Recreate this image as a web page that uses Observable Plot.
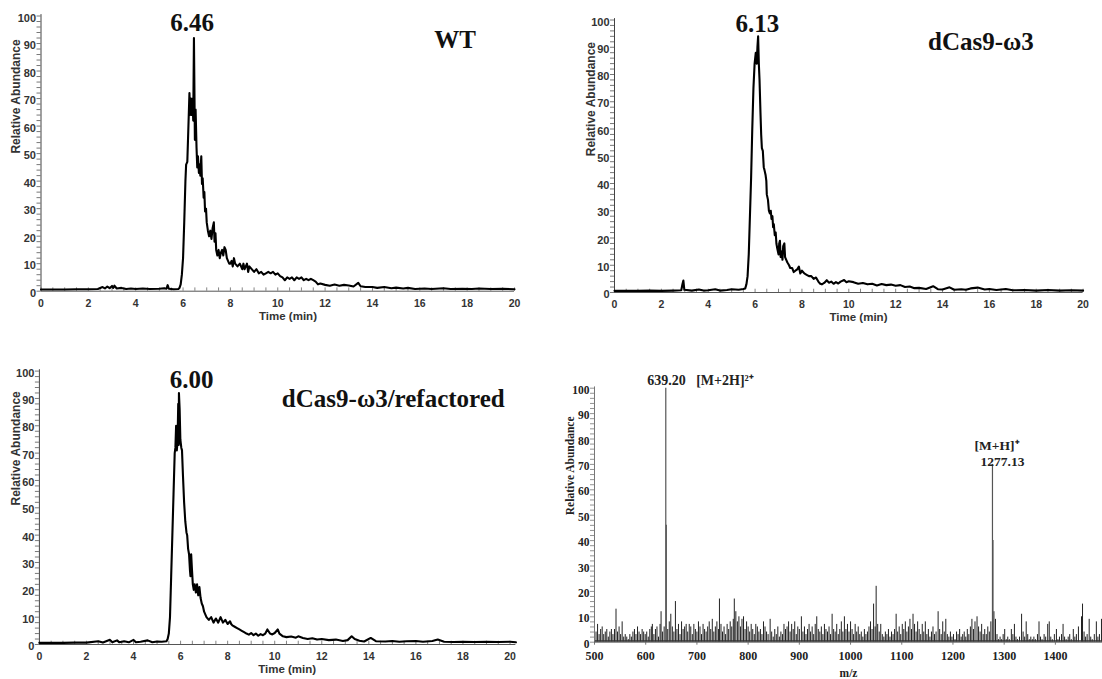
<!DOCTYPE html>
<html><head><meta charset="utf-8">
<script src="https://cdn.jsdelivr.net/npm/d3@7"></script>
<script src="https://cdn.jsdelivr.net/npm/@observablehq/plot@0.6"></script>
<style>
body{margin:0;background:#fff}
#wrap{position:relative;width:1102px;height:679px;overflow:hidden;background:#fff}
#wrap svg{position:absolute}
</style></head>
<body><div id="wrap"></div>
<script>
// ---------- data ----------
const chromYTicks = [0,10,20,30,40,50,60,70,80,90,100];
const chromXTicks = [0,2,4,6,8,10,12,14,16,18,20];
const msYTicks = [0,10,20,30,40,50,60,70,80,90,100];
const msXTicks = [500,600,700,800,900,1000,1100,1200,1300,1400];

const panelNames = ["WT", "dCas9-ω3", "dCas9-ω3/refactored"];
const peakLabels = ["6.46", "6.13", "6.00"];

// [time (min), relative abundance]
const wtTrace = [[0,0.6],[0.5,0.6],[1,0.6],[1.5,0.7],[2,0.7],[2.4,0.8],[2.6,1.5],[2.7,1.0],[2.8,1.7],[2.9,1.1],[3.0,1.9],[3.05,1.2],[3.1,2.0],[3.2,1.0],[3.4,1.2],[3.6,0.8],[3.8,1.0],[4.0,0.8],[4.3,1.0],[4.6,0.8],[5.0,0.9],[5.2,1.1],[5.3,0.9],[5.35,2.2],[5.4,0.9],[5.6,0.7],[5.8,0.8],[5.85,1.2],[5.9,2.5],[5.95,6],[6.0,12],[6.05,25],[6.1,40],[6.13,46],[6.18,47],[6.22,58],[6.27,72],[6.3,64],[6.33,70],[6.37,64],[6.4,70],[6.43,62],[6.46,92],[6.5,55],[6.53,66],[6.57,52],[6.6,45],[6.63,49],[6.67,43],[6.7,46],[6.73,42],[6.77,49],[6.8,39],[6.83,41],[6.87,34],[6.9,36],[6.93,29],[6.97,30],[7.0,25],[7.05,22],[7.1,20],[7.15,22],[7.2,19],[7.25,23],[7.3,25],[7.33,18],[7.37,21],[7.4,15],[7.45,13],[7.5,15],[7.55,12],[7.6,14],[7.65,15],[7.7,13],[7.75,16],[7.8,15],[7.85,12],[7.9,11],[7.95,10],[8.0,10],[8.05,11],[8.1,9],[8.15,12],[8.2,10],[8.3,9],[8.4,10],[8.5,8],[8.55,10],[8.6,8],[8.7,10],[8.75,7],[8.8,9],[8.9,8],[9.0,7],[9.1,8],[9.2,6.5],[9.3,7],[9.4,6],[9.5,6.5],[9.6,7],[9.7,6.5],[9.8,7],[9.9,6],[10.0,6.5],[10.1,5.5],[10.2,5],[10.3,4],[10.4,5],[10.5,4.5],[10.6,5],[10.7,4],[10.8,5],[10.9,4.5],[11.0,5],[11.1,4],[11.2,4.5],[11.3,4],[11.4,4.5],[11.5,4],[11.6,3.5],[11.7,2.5],[11.8,2.8],[12.0,2.3],[12.2,2.0],[12.4,2.4],[12.6,2.0],[12.8,2.3],[13.0,2.1],[13.2,1.7],[13.4,3.0],[13.5,1.8],[13.7,1.5],[14.0,1.5],[14.2,1.2],[14.5,1.5],[14.8,1.1],[15.0,1.3],[15.3,1.0],[15.5,1.2],[15.8,0.8],[16.2,1.0],[16.5,0.8],[17.0,1.1],[17.3,0.8],[17.8,0.9],[18.2,0.8],[18.5,1.0],[19.0,0.8],[19.5,0.9],[20,0.7]];

const dcasTrace = [[0,0.6],[0.5,0.6],[1,0.6],[1.5,0.7],[2,0.6],[2.5,0.7],[2.85,0.8],[2.9,3.0],[2.94,4.4],[2.98,1.0],[3.3,0.7],[3.6,1.1],[3.8,0.7],[4.0,0.8],[4.3,1.2],[4.5,0.7],[4.8,0.9],[5.0,1.2],[5.3,1.0],[5.5,1.3],[5.58,1.5],[5.63,3],[5.68,6],[5.73,14],[5.78,28],[5.83,42],[5.88,60],[5.93,75],[5.98,84],[6.03,88],[6.07,84],[6.1,90],[6.13,94],[6.16,84],[6.19,78],[6.23,66],[6.26,58],[6.29,53],[6.33,52],[6.37,46],[6.4,45],[6.45,43],[6.48,41],[6.5,36],[6.55,34],[6.59,30],[6.63,29],[6.67,30],[6.7,27],[6.74,28],[6.77,24],[6.8,25],[6.84,21],[6.88,22],[6.91,18],[6.95,16],[7.0,14],[7.03,18],[7.06,19],[7.09,13],[7.13,15],[7.17,12],[7.2,17],[7.25,18],[7.28,13],[7.33,12],[7.38,11],[7.45,10],[7.5,9],[7.58,9],[7.65,7.5],[7.72,8],[7.8,8.5],[7.87,9.5],[7.93,7],[8.0,8],[8.1,7],[8.2,6.5],[8.3,6],[8.4,6],[8.5,5],[8.6,5.5],[8.7,4],[8.78,3.2],[8.85,3.0],[8.95,3.5],[9.06,4.5],[9.15,3.6],[9.25,4],[9.35,3.2],[9.45,3.8],[9.55,3.3],[9.65,4],[9.8,4.6],[9.9,3.8],[10.0,4.1],[10.2,3.8],[10.4,3.2],[10.6,3.5],[10.8,3.0],[11.0,3.2],[11.2,2.6],[11.4,3.1],[11.6,2.7],[11.8,2.9],[12.0,2.5],[12.2,2.7],[12.4,2.0],[12.6,2.2],[12.8,1.6],[13.0,1.7],[13.3,1.3],[13.6,2.3],[13.8,1.2],[14.0,1.1],[14.3,1.9],[14.5,1.0],[14.8,1.2],[15.0,1.0],[15.2,1.5],[15.5,1.8],[15.8,1.1],[16.0,1.3],[16.3,0.9],[16.7,1.3],[17.0,0.8],[17.5,0.9],[18.0,0.7],[18.5,0.9],[19.0,0.7],[19.5,0.8],[20,0.7]];

const refTrace = [[0,0.6],[0.5,0.6],[1,0.6],[1.5,0.7],[2,0.7],[2.5,1.2],[2.7,0.7],[3.0,1.7],[3.1,0.8],[3.3,1.5],[3.4,0.8],[3.6,1.2],[3.8,0.8],[4.0,1.7],[4.1,0.8],[4.3,1.0],[4.6,1.5],[4.8,0.8],[5.0,1.1],[5.2,1.0],[5.4,1.2],[5.45,2],[5.5,4],[5.55,10],[5.6,25],[5.65,40],[5.7,55],[5.75,70],[5.78,72],[5.81,80],[5.84,71],[5.87,74],[5.9,88],[5.92,73],[5.93,92],[5.96,86],[5.99,75],[6.03,72],[6.06,71],[6.1,62],[6.15,52],[6.2,45],[6.25,41],[6.28,40],[6.32,35],[6.36,33],[6.4,27],[6.42,25],[6.45,33],[6.48,28],[6.52,22],[6.56,20],[6.6,22],[6.65,19],[6.7,22],[6.75,18],[6.8,21],[6.85,17],[6.9,15],[6.95,14],[7.0,12],[7.05,11],[7.1,10],[7.2,9],[7.3,10],[7.4,8],[7.5,9.5],[7.6,8],[7.7,10],[7.8,8],[7.9,9],[8.0,7.5],[8.1,8.5],[8.15,7.5],[8.2,7],[8.3,6.5],[8.4,6],[8.5,5.5],[8.6,5],[8.7,4.5],[8.8,4],[8.9,3.6],[9.0,4.2],[9.1,3.4],[9.2,4],[9.3,3.2],[9.4,3.8],[9.5,3.4],[9.6,4],[9.69,5.5],[9.8,4],[9.9,3.7],[10.0,4.2],[10.13,5.5],[10.2,4],[10.35,3],[10.5,2.7],[10.7,2.9],[10.9,2.5],[11.0,3.0],[11.2,2.4],[11.4,2.0],[11.6,2.3],[11.8,1.8],[12.0,2.0],[12.3,1.6],[12.6,1.8],[12.9,1.3],[13.1,1.6],[13.27,3],[13.4,2.0],[13.6,1.4],[13.8,1.1],[14.08,2.4],[14.3,1.2],[14.7,1.1],[15.0,1.3],[15.3,1.0],[15.6,1.2],[16.0,1.3],[16.3,1.0],[16.7,1.3],[16.93,1.8],[17.2,1.0],[17.6,0.9],[18.0,1.0],[18.5,0.9],[19.0,1.0],[19.5,0.9],[20.0,1.0],[20.25,0.8]];

// mass spectrum: [m/z, relative abundance]
const msNoise = [[500,6],[503,4],[506,7],[509,3],[512,5],[515,6],[518,3],[521,4],[524,5],[527,2],[530,4],[533,5],[536,3],[539,5],[542,13],[545,4],[548,6],[551,3],[554,8],[557,2],[560,3],[563,2],[566,1],[569,3],[572,2],[575,4],[578,5],[581,3],[584,6],[587,4],[590,3],[593,5],[596,4],[599,3],[602,4],[605,2],[608,5],[611,6],[613,7],[616,3],[619,5],[622,6],[625,2],[628,7],[630,12],[633,4],[636,6],[643,5],[646,8],[649,11],[652,6],[655,4],[658,16],[661,5],[664,7],[667,3],[670,8],[673,5],[676,6],[679,7],[682,4],[685,7],[688,6],[691,3],[694,7],[697,5],[700,4],[703,8],[706,6],[709,3],[712,7],[715,5],[718,4],[721,6],[724,8],[727,5],[730,9],[733,4],[736,6],[739,8],[742,5],[744,17],[747,7],[750,4],[753,6],[756,3],[759,7],[762,5],[765,8],[768,6],[771,9],[773,17],[776,12],[779,8],[782,10],[785,6],[788,9],[791,10],[794,5],[797,8],[800,6],[803,4],[806,7],[809,5],[812,3],[815,7],[818,6],[821,4],[824,5],[827,3],[830,8],[833,6],[836,4],[839,3],[843,9],[846,4],[849,2],[852,5],[855,3],[858,6],[861,2],[864,4],[867,3],[870,7],[873,5],[876,6],[879,8],[882,4],[885,7],[888,5],[891,8],[894,3],[897,6],[900,5],[904,10],[907,4],[910,6],[913,3],[916,5],[919,7],[922,4],[925,6],[928,3],[931,7],[934,10],[937,5],[940,4],[943,6],[946,3],[949,7],[952,5],[955,4],[958,6],[961,3],[964,11],[967,5],[970,4],[973,7],[976,3],[979,5],[982,8],[985,4],[988,10],[991,5],[994,7],[997,4],[1000,8],[1003,5],[1006,3],[1009,7],[1012,4],[1015,6],[1018,3],[1021,4],[1024,2],[1027,5],[1030,3],[1033,4],[1036,6],[1039,8],[1042,5],[1045,15],[1048,6],[1050,22],[1053,7],[1056,4],[1059,7],[1062,3],[1065,2],[1068,4],[1071,3],[1074,5],[1077,2],[1080,4],[1083,3],[1086,5],[1089,11],[1092,4],[1095,6],[1098,3],[1101,7],[1104,5],[1107,8],[1110,4],[1113,6],[1116,9],[1119,5],[1122,11],[1125,7],[1128,4],[1131,8],[1134,5],[1137,3],[1140,7],[1143,4],[1146,8],[1149,3],[1152,5],[1155,2],[1158,4],[1161,6],[1164,3],[1167,4],[1171,12],[1174,5],[1177,3],[1180,8],[1183,4],[1186,9],[1189,3],[1192,2],[1195,4],[1198,2],[1201,3],[1204,1],[1207,4],[1210,3],[1213,5],[1216,2],[1219,3],[1222,4],[1225,2],[1228,5],[1231,3],[1234,6],[1237,9],[1240,5],[1243,8],[1247,10],[1250,6],[1253,4],[1256,7],[1259,3],[1262,5],[1265,3],[1268,6],[1271,4],[1274,8],[1280,12],[1283,9],[1286,3],[1289,1],[1292,2],[1295,1],[1298,3],[1301,5],[1304,1],[1307,2],[1310,1],[1314,5],[1317,3],[1320,7],[1323,2],[1326,1],[1330,2],[1334,11],[1337,4],[1340,2],[1343,8],[1346,3],[1349,1],[1352,2],[1355,1],[1358,2],[1361,1],[1365,3],[1368,8],[1371,2],[1374,1],[1378,3],[1381,2],[1385,7],[1388,8],[1391,2],[1394,1],[1398,3],[1402,5],[1405,1],[1408,2],[1412,3],[1415,7],[1418,2],[1421,1],[1425,2],[1428,3],[1431,1],[1435,5],[1438,2],[1441,3],[1445,6],[1451,10],[1453,15],[1456,4],[1459,2],[1462,3],[1466,9],[1469,2],[1472,1],[1476,3],[1480,8],[1483,2],[1486,3],[1490,9]];
const msMajor = [[639.2,100],[640.2,46],[1277.13,70],[1278.1,40]];
const msLabels = ["639.20\u00a0\u00a0 [M+2H]²⁺", "[M+H]⁺", "1277.13"];

// ---------- drawing ----------
const SANS = "'Liberation Sans', Arial, Helvetica, sans-serif";
const SERIF = "'Liberation Serif', 'Times New Roman', Times, serif";
const wrap = document.getElementById("wrap");

function place(svg, left, top) {
  svg.style.left = left + "px";
  svg.style.top = top + "px";
  wrap.appendChild(svg);
}

function chromPanel(c) {
  const yMinor = d3.range(0, 101, 2);
  const xMinor = d3.range(0, c.xMax + 0.001, 0.5);
  return Plot.plot({
    width: c.width, height: c.height,
    marginLeft: c.mL, marginRight: c.mR, marginTop: c.mT, marginBottom: c.mB,
    x: {domain: [0, c.xMax]},
    y: {domain: [0, 100]},
    style: {fontFamily: SANS, background: "transparent", overflow: "visible", color: "#333"},
    marks: [
      Plot.axisY(yMinor, {tickSize: 4, text: null, label: null, stroke: "#555", strokeWidth: 0.8}),
      Plot.axisY(chromYTicks, {tickSize: 0, tickPadding: 5, dy: 2, fontSize: 11, fontWeight: "bold", fill: "#333", label: null, tickFormat: d => String(d)}),
      Plot.axisX(chromXTicks, {tickSize: 0, tickPadding: c.xPad, fontSize: 10.5, fontWeight: "bold", fill: "#333", label: null, tickFormat: d => String(d)}),
      Plot.ruleX(xMinor, {y1: 0, y2: 1.2, stroke: "#666", strokeWidth: 0.8}),
      Plot.ruleY([0], {stroke: "#555", strokeWidth: 1}),
      Plot.ruleX([0], {y1: 0, y2: 100.5, stroke: "#444", strokeWidth: 1}),
      Plot.line(c.trace, {x: d => d[0], y: d => d[1], stroke: "#000", strokeWidth: 2.1, strokeLinejoin: "round"}),
      Plot.text([c.peak], {x: c.peakX, y: c.peakY, fontFamily: SERIF, fontSize: 25, fontWeight: "bold", fill: "#111", lineAnchor: "middle"}),
      Plot.text([c.name], {x: c.nameX, y: c.nameY, fontFamily: SERIF, fontSize: 25, fontWeight: "bold", fill: "#111", lineAnchor: "middle"}),
      Plot.text(["Relative Abundance"], {frameAnchor: "left", rotate: -90, dx: c.ylDx, dy: c.ylDy, fontSize: 12, fontWeight: "bold", fill: "#333", lineAnchor: "middle"}),
      Plot.text(["Time (min)"], {frameAnchor: "bottom", dx: c.xlDx, dy: c.xlDy, fontSize: 11.5, fontWeight: "bold", fill: "#333", lineAnchor: "middle"})
    ]
  });
}

place(chromPanel({
  width: 540, height: 330, mL: 40.5, mR: 26, mT: 15.5, mB: 39.3, xMax: 20, xPad: 8.5,
  trace: wtTrace, peak: peakLabels[0], peakX: 6.38, peakY: 97.3,
  name: panelNames[0], nameX: 17.49, nameY: 91.1,
  ylDx: -25, ylDy: 0, xlDx: 10.25, xlDy: 25.5
}), 0, 0);

place(chromPanel({
  width: 542, height: 330, mL: 54, mR: 19.4, mT: 19.5, mB: 38, xMax: 20, xPad: 8,
  trace: dcasTrace, peak: peakLabels[1], peakX: 6.10, peakY: 98.6,
  name: panelNames[1], nameX: 15.64, nameY: 91.9,
  ylDx: -22.9, ylDy: 0, xlDx: 9.7, xlDy: 24.5
}), 560, 0);

place(chromPanel({
  width: 540, height: 349, mL: 38.9, mR: 24.6, mT: 40.6, mB: 35, xMax: 20.25, xPad: 8,
  trace: refTrace, peak: peakLabels[2], peakX: 6.47, peakY: 96.8,
  name: panelNames[2], nameX: 15.04, nameY: 89.9,
  ylDx: -23.4, ylDy: -2.3, xlDx: 9.5, xlDy: 25
}), 0, 330);

// mass spectrum panel
const msPanel = Plot.plot({
  width: 542, height: 349,
  marginLeft: 34, marginRight: 0, marginTop: 57.7, marginBottom: 37.3,
  x: {domain: [500, 1492]},
  y: {domain: [0, 100]},
  style: {fontFamily: SERIF, background: "transparent", overflow: "visible", color: "#222"},
  marks: [
    Plot.axisY(d3.range(0, 101, 2), {tickSize: 4, text: null, label: null, stroke: "#777", strokeWidth: 0.8}),
    Plot.axisY(msYTicks, {tickSize: 0, tickPadding: 5, dy: 2, fontSize: 11.5, fontWeight: "bold", fill: "#222", label: null, tickFormat: d => String(d)}),
    Plot.axisX(msXTicks, {tickSize: 3, tickPadding: 6, fontSize: 12, fontWeight: "bold", fill: "#222", label: null, stroke: "#777", tickFormat: d => String(d)}),
    Plot.ruleX(msNoise, {x: d => d[0], y1: 0, y2: d => d[1], stroke: "#222", strokeWidth: 1}),
    Plot.ruleX(msMajor, {x: d => d[0], y1: 0, y2: d => d[1], stroke: "#555", strokeWidth: 1.2}),
    Plot.ruleY([0.5], {stroke: "#333", strokeWidth: 1.5}),
    Plot.ruleY([0], {stroke: "#666", strokeWidth: 1}),
    Plot.ruleX([500], {y1: 0, y2: 100.5, stroke: "#777", strokeWidth: 1}),
    Plot.text([msLabels[0]], {x: 602.9, y: 103.0, textAnchor: "start", fontSize: 14, fontWeight: "bold", fill: "#222", lineAnchor: "middle"}),
    Plot.text([msLabels[1]], {x: 1242.2, y: 77.4, textAnchor: "start", fontSize: 13.5, fontWeight: "bold", fill: "#222", lineAnchor: "middle"}),
    Plot.text([msLabels[2]], {x: 1253.9, y: 70.9, textAnchor: "start", fontSize: 13.5, fontWeight: "bold", fill: "#222", lineAnchor: "middle"}),
    Plot.text(["Relative Abundance"], {frameAnchor: "left", rotate: -90, dx: -24.3, fontSize: 11.5, fontWeight: "bold", fill: "#222", lineAnchor: "middle"}),
    Plot.text(["m/z"], {frameAnchor: "bottom", dy: 31, fontSize: 11.5, fontWeight: "bold", fill: "#222", lineAnchor: "middle"})
  ]
});
place(msPanel, 560, 330);
</script>
</body></html>
